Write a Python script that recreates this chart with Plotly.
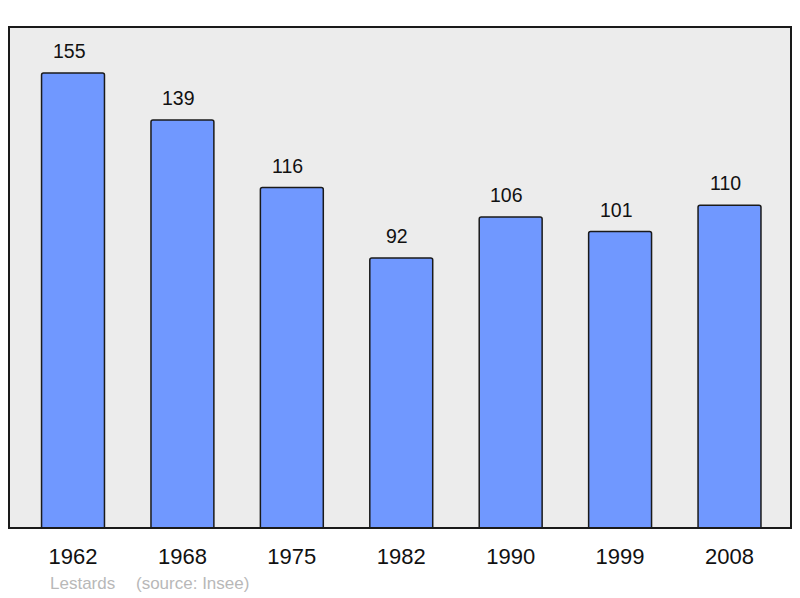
import plotly.graph_objects as go

years = ["1962", "1968", "1975", "1982", "1990", "1999", "2008"]
population = [155, 139, 116, 92, 106, 101, 110]
caption_name = "Lestards"
caption_source = "(source: Insee)"

xs = list(range(len(years)))
FONT = "Liberation Sans, Arial"

fig = go.Figure()
fig.add_trace(go.Bar(
    x=xs, y=population, width=0.575,
    marker=dict(color="#7098ff", line=dict(color="#1a1a1a", width=1.5), cornerradius=2),
    hoverinfo="skip",
))
for x, v in zip(xs, population):
    fig.add_annotation(x=x, y=v, text=str(v), showarrow=False, yanchor="middle", yshift=22, xshift=-4,
                       font=dict(family=FONT, size=19.5, color="#111"))

fig.add_shape(type="rect", xref="paper", yref="paper", x0=0, x1=1, y0=0, y1=1,
              line=dict(color="#1a1a1a", width=2), layer="above")
fig.add_annotation(xref="paper", yref="paper", x=0.0499, y=-0.1098, xanchor="left", yanchor="middle",
                   text=caption_name, showarrow=False,
                   font=dict(family=FONT, size=17, color="#b8b8b8"))
fig.add_annotation(xref="paper", yref="paper", x=0.1598, y=-0.1098, xanchor="left", yanchor="middle",
                   text=caption_source, showarrow=False,
                   font=dict(family=FONT, size=17, color="#b8b8b8"))

fig.update_layout(
    width=792, height=590,
    margin=dict(l=1, r=9, t=19, b=70),
    paper_bgcolor="white", plot_bgcolor="#ececec",
    showlegend=False,
    xaxis=dict(range=[-0.585, 6.562], tickvals=xs, ticktext=years, showgrid=False, zeroline=False,
               ticks="outside", ticklen=9, tickcolor="rgba(0,0,0,0)",
               tickfont=dict(family=FONT, size=22, color="#111")),
    yaxis=dict(range=[0, 170.7], showgrid=False, zeroline=False, showticklabels=False, ticks=""),
)
fig.write_html("out.html")
